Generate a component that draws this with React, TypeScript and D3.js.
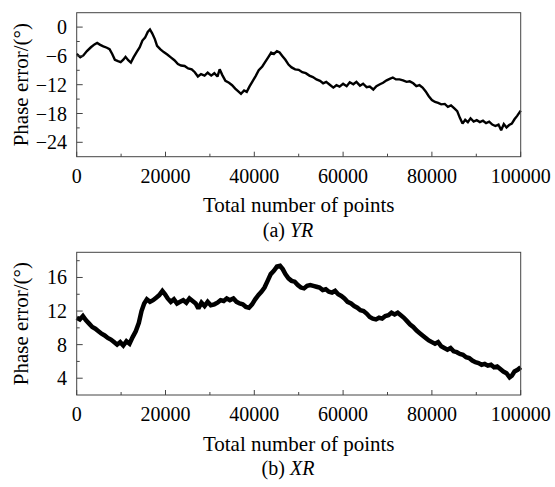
import React from "react";
import * as d3 from "d3";

const xTicks = [0, 20000, 40000, 60000, 80000, 100000];
const xMinorTicks = [10000, 30000, 50000, 70000, 90000];
const yrTicks = [0, -6, -12, -18, -24];
const yrMinorTicks = [3, -3, -9, -15, -21, -27];
const xrTicks = [4, 8, 12, 16];
const xrMinorTicks = [2, 6, 10, 14, 18];

const yrPoints = [0, 800, 1500, 2300, 3200, 4000, 4600, 5300, 6000, 6800, 7400, 8000, 8600, 9300, 9900, 10500, 11000, 11600, 12200, 12800, 13500, 14200, 14800, 15400, 16000, 16500, 17000, 17600, 18100, 18800, 19600, 20400, 21200, 22000, 22800, 23500, 24300, 25100, 25900, 26600, 27300, 28000, 28800, 29500, 30300, 31000, 31700, 32200, 32800, 33500, 34300, 35000, 35700, 36400, 37000, 37700, 38300, 38900, 39600, 40300, 41000, 41800, 42500, 43200, 43800, 44400, 45100, 45700, 46300, 47000, 47700, 48400, 49200, 50000, 50800, 51600, 52400, 53200, 54000, 54800, 55500, 56200, 57000, 57800, 58500, 59200, 60000, 60800, 61500, 62300, 63000, 63800, 64500, 65300, 66000, 66800, 67500, 68300, 69000, 69800, 70500, 71200, 71900, 72700, 73500, 74300, 75000, 75800, 76500, 77200, 77900, 78600, 79300, 80000, 80700, 81400, 82100, 82900, 83600, 84300, 85000, 85700, 86300, 86900, 87500, 88100, 88700, 89400, 90100, 90800, 91500, 92200, 92900, 93600, 94300, 95000, 95600, 96200, 96800, 97400, 98000, 98600, 99200, 100000];
const yrValues = [-5.6, -6.3, -5.9, -5.0, -4.2, -3.6, -3.3, -3.7, -4.0, -4.3, -4.6, -5.6, -6.8, -7.1, -7.3, -6.8, -6.2, -6.9, -7.4, -6.3, -5.2, -4.2, -2.8, -2.2, -1.0, -0.5, -1.3, -2.5, -3.9, -4.6, -5.2, -5.7, -6.3, -6.9, -7.7, -8.0, -8.1, -8.6, -8.8, -9.4, -10.3, -9.8, -10.1, -9.5, -10.1, -9.6, -10.3, -8.8, -10.0, -11.2, -11.6, -12.1, -12.8, -13.4, -13.9, -13.2, -13.5, -12.4, -11.3, -10.2, -9.0, -8.2, -7.2, -6.2, -5.3, -5.6, -5.0, -5.3, -6.0, -6.8, -7.8, -8.4, -8.8, -8.9, -9.4, -9.6, -10.1, -10.4, -10.9, -11.2, -11.7, -11.4, -12.0, -12.6, -12.1, -12.4, -11.8, -12.3, -11.5, -11.9, -11.4, -12.2, -11.8, -12.5, -12.4, -13.0, -12.3, -11.9, -11.6, -11.1, -10.8, -10.5, -10.9, -10.9, -11.1, -11.4, -11.3, -11.7, -12.3, -12.1, -12.6, -13.4, -14.4, -15.2, -15.6, -15.8, -16.1, -16.0, -16.6, -16.3, -16.9, -17.5, -18.9, -20.1, -19.3, -19.8, -19.0, -19.7, -19.4, -19.8, -19.5, -20.0, -19.7, -20.3, -20.6, -20.3, -21.5, -20.2, -20.9, -20.4, -20.1, -19.2, -18.5, -17.4];

const xrPoints = [0, 700, 1400, 2100, 2800, 3500, 4200, 4900, 5600, 6300, 7000, 7700, 8400, 9100, 9800, 10500, 11200, 11900, 12600, 13300, 14000, 14600, 15200, 15800, 16500, 17200, 17900, 18600, 19300, 19900, 20500, 21200, 21900, 22600, 23300, 24000, 24700, 25400, 26100, 26800, 27400, 28100, 28800, 29500, 30200, 31000, 31700, 32400, 33100, 33800, 34500, 35300, 36000, 36700, 37400, 38100, 38800, 39500, 40200, 40900, 41600, 42300, 43000, 43700, 44400, 45100, 45800, 46400, 47000, 47700, 48400, 49100, 49800, 50500, 51200, 51900, 52600, 53300, 54000, 54700, 55400, 56100, 56800, 57500, 58200, 58900, 59600, 60300, 61000, 61800, 62500, 63200, 63900, 64600, 65300, 66000, 66700, 67400, 68100, 68800, 69500, 70200, 70900, 71600, 72300, 73000, 73700, 74400, 75100, 75800, 76500, 77200, 77900, 78600, 79300, 80000, 80700, 81400, 82100, 82800, 83500, 84200, 84900, 85600, 86300, 87000, 87700, 88400, 89100, 89800, 90500, 91200, 91900, 92600, 93300, 94000, 94700, 95400, 96100, 96800, 97500, 98000, 98600, 99300, 100000];
const xrValues = [11.2, 11.0, 11.4, 10.9, 10.5, 10.1, 9.9, 9.6, 9.3, 9.1, 8.8, 8.6, 8.3, 8.0, 8.3, 7.9, 8.4, 8.1, 8.9, 9.6, 10.6, 12.0, 12.9, 13.4, 13.1, 13.3, 13.6, 13.9, 14.4, 14.0, 13.5, 13.1, 13.4, 12.9, 13.1, 13.3, 13.0, 13.5, 13.2, 12.9, 12.3, 13.0, 12.6, 13.1, 12.7, 12.8, 13.0, 13.3, 13.2, 13.5, 13.3, 13.5, 13.1, 12.9, 12.8, 12.5, 12.4, 12.8, 13.4, 13.9, 14.3, 14.8, 15.6, 16.4, 16.8, 17.3, 17.4, 17.0, 16.4, 15.9, 15.6, 15.5, 15.1, 14.8, 14.7, 15.0, 15.1, 15.0, 14.9, 14.8, 14.5, 14.6, 14.3, 14.2, 14.4, 14.0, 13.8, 13.5, 13.1, 12.9, 12.6, 12.4, 12.1, 12.0, 11.7, 11.3, 11.1, 11.0, 11.2, 11.1, 11.4, 11.5, 11.8, 11.6, 11.8, 11.5, 11.2, 10.8, 10.4, 10.1, 9.7, 9.4, 9.1, 8.8, 8.5, 8.3, 8.1, 8.3, 7.8, 7.6, 7.4, 7.6, 7.2, 7.1, 6.9, 6.8, 6.5, 6.4, 6.1, 5.9, 5.8, 5.6, 5.7, 5.5, 5.6, 5.3, 5.4, 5.1, 4.8, 4.6, 4.1, 4.3, 4.8, 5.0, 5.3];

const FONT = "Liberation Serif";
const LEFT = 76.7;
const RIGHT = 520.7;

type PanelProps = {
  top: number;
  bottom: number;
  domain: [number, number];
  ticks: number[];
  minor: number[];
  points: number[];
  values: number[];
  strokeW: number;
  captionLetter: string;
  captionName: string;
};

function fmt(v: number) {
  return v < 0 ? "\u2212" + Math.abs(v) : String(v);
}

const txt = (size: number) => ({ fontFamily: FONT, fontSize: size + "px" });

function Panel(p: PanelProps) {
  const x = d3.scaleLinear().domain([0, 100000]).range([LEFT, RIGHT]);
  const y = d3.scaleLinear().domain(p.domain).range([p.bottom, p.top]);
  const data = p.points.map((n, i) => [n, p.values[i]] as [number, number]);
  const line = d3
    .line<[number, number]>()
    .x((d) => x(d[0]))
    .y((d) => y(d[1]));
  const mid = (p.top + p.bottom) / 2;
  const axisColor = "#444";
  return (
    <g>
      <path d={line(data) || ""} fill="none" stroke="#000" strokeWidth={p.strokeW} strokeLinejoin="miter" strokeMiterlimit={2} />
      <rect x={LEFT} y={p.top} width={RIGHT - LEFT} height={p.bottom - p.top} fill="none" stroke={axisColor} strokeWidth={1} />
      {xTicks.map((t) => (
        <line key={"xt" + t} x1={x(t)} x2={x(t)} y1={p.bottom} y2={p.bottom - 5} stroke={axisColor} />
      ))}
      {xMinorTicks.map((t) => (
        <line key={"xm" + t} x1={x(t)} x2={x(t)} y1={p.bottom} y2={p.bottom - 3} stroke={axisColor} />
      ))}
      {p.ticks.map((t) => (
        <line key={"yt" + t} x1={LEFT} x2={LEFT + 6} y1={y(t)} y2={y(t)} stroke={axisColor} />
      ))}
      {p.minor.filter((t) => t > p.domain[0] && t < p.domain[1]).map((t) => (
        <line key={"ym" + t} x1={LEFT} x2={LEFT + 3} y1={y(t)} y2={y(t)} stroke={axisColor} />
      ))}
      {xTicks.map((t) => (
        <text key={"xl" + t} x={x(t)} y={p.bottom + 26} textAnchor="middle" style={txt(20)} fill="#000">
          {t}
        </text>
      ))}
      {p.ticks.map((t) => (
        <text key={"yl" + t} x={67} y={y(t)} dy="0.35em" textAnchor="end" style={txt(20)} fill="#000">
          {fmt(t)}
        </text>
      ))}
      <text x={(LEFT + RIGHT) / 2} y={p.bottom + 55.5} textAnchor="middle" style={txt(21)} fill="#000">
        Total number of points
      </text>
      <text transform={`translate(28,${mid}) rotate(-90)`} textAnchor="middle" style={txt(21)} fill="#000">
        Phase error/(°)
      </text>
      <text x={288} y={p.bottom + 80} textAnchor="middle" style={txt(20)} fill="#000">
        {"(" + p.captionLetter + ") "}
        <tspan fontStyle="italic">{p.captionName}</tspan>
      </text>
    </g>
  );
}

export default function App() {
  return (
    <svg width={555} height={487} style={{ position: "absolute", left: 0, top: 0, background: "#fff" }}>
      <rect width={555} height={487} fill="#fff" />
      <Panel top={12.7} bottom={156.7} domain={[-27, 3]} ticks={yrTicks} minor={yrMinorTicks} points={yrPoints} values={yrValues} strokeW={2.4} captionLetter="a" captionName="YR" />
      <Panel top={252.3} bottom={395} domain={[2, 19]} ticks={xrTicks} minor={xrMinorTicks} points={xrPoints} values={xrValues} strokeW={4.5} captionLetter="b" captionName="XR" />
    </svg>
  );
}
